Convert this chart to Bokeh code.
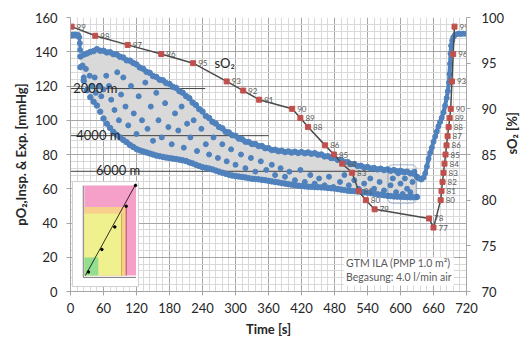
import math
from bokeh.plotting import figure
from bokeh.models import Range1d, LinearAxis, SingleIntervalTicker, Label, BoxAnnotation
from bokeh.core.properties import value
from bokeh.embed import file_html
from bokeh.resources import INLINE

# ---------------- data ----------------
# pO2 plateau before the start (s, mmHg)
PRE_T = [-2, 0, 2, 4, 6, 8, 10, 12, 14, 16, 17, 17.5]
PRE_V = [149.6, 150.0, 149.4, 149.9, 149.5, 150.1, 149.7, 149.3, 149.8, 148.5, 145.0, 141.0]

# pO2 inspiratory (upper) and expiratory (lower) envelopes on a common time base
BAND_T = [18, 24, 30, 36, 42, 48, 54, 60, 66, 72, 78, 84, 90, 96, 102, 108, 114, 120, 126, 132,
          138, 144, 150, 156, 162, 168, 174, 180, 186, 192, 198, 204, 210, 216, 222, 228, 234, 240,
          246, 252, 258, 264, 270, 276, 282, 288, 294, 300, 306, 312, 318, 324, 330, 336, 342, 348,
          354, 360, 366, 372, 378, 384, 390, 396, 402, 408, 414, 420, 426, 432, 438, 444, 450, 456,
          462, 468, 474, 480, 486, 492, 498, 504, 510, 516, 522, 528, 534, 540, 546, 552, 558, 564,
          570, 576, 582, 588, 594, 600, 606, 612, 618, 624, 630]
PO2_INSP = [137.2, 138.3, 139.0, 139.9, 140.4, 141.5, 140.6, 140.6, 139.6, 139.7, 138.6, 138.4,
            137.1, 136.6, 135.0, 134.8, 133.5, 132.6, 130.8, 130.1, 128.3, 127.7, 125.8, 125.3,
            123.7, 123.3, 121.7, 121.2, 119.5, 118.9, 117.0, 116.1, 114.1, 112.9, 110.3, 108.9,
            106.5, 105.1, 102.5, 101.3, 99.1, 98.1, 96.1, 95.3, 93.3, 92.9, 91.3, 90.9, 89.3,
            88.9, 87.5, 87.3, 86.1, 86.1, 84.9, 84.9, 83.7, 83.7, 82.6, 82.8, 81.9, 82.2, 81.4,
            81.8, 81.1, 81.6, 80.9, 81.4, 80.7, 81.2, 80.4, 80.8, 79.9, 80.0, 78.9, 79.0, 77.9,
            78.0, 76.8, 76.8, 75.6, 75.6, 74.4, 74.4, 73.3, 73.4, 72.4, 72.7, 71.8, 72.1, 71.3,
            71.7, 70.9, 71.3, 70.5, 70.9, 70.1, 70.5, 69.7, 70.0, 69.0, 68.8, 67.0]
PO2_EXP = [131.0, 123.0, 117.5, 113.5, 110.8, 108.6, 105.0, 101.0, 98.0, 95.5, 93.2, 91.5,
           90.0, 88.5, 87.2, 85.6, 84.4, 83.2, 82.4, 81.8, 81.2, 80.6, 80.0, 79.4, 79.0, 78.6,
           78.2, 77.9, 77.6, 77.3, 77.0, 76.6, 76.2, 75.4, 74.8, 74.0, 73.3, 72.6, 72.2, 71.8,
           71.3, 70.6, 70.0, 69.4, 68.8, 68.2, 67.7, 67.4, 67.1, 66.9, 66.6, 66.2, 65.9, 65.7,
           65.5, 65.2, 65.0, 64.6, 64.3, 64.0, 63.7, 63.3, 63.0, 62.7, 62.4, 62.1, 61.8, 61.6,
           61.4, 61.2, 61.1, 61.0, 60.9, 60.8, 60.7, 60.5, 60.3, 60.1, 59.8, 59.5, 59.2, 58.9,
           58.7, 58.6, 58.4, 58.2, 58.0, 57.7, 57.4, 57.1, 56.8, 56.5, 56.2, 55.9, 55.7, 55.5,
           55.4, 55.3, 55.2, 55.1, 55.0, 55.0, 55.2]

# single pO2 trace after the altitude phase
POST_T = [630, 634, 638, 642, 645, 648, 651, 654, 657, 660, 663, 666, 669, 672, 675, 678, 681,
          684, 686, 688, 689, 690, 691, 692, 694, 696, 699, 702, 706, 710, 714, 718]
POST_V = [67.0, 66.0, 65.4, 66.5, 69.0, 73.0, 77.5, 81.0, 84.0, 87.5, 90.5, 93.5, 96.5, 99.0,
          101.5, 104.5, 108.5, 113.0, 117.0, 122.0, 127.0, 133.0, 139.0, 143.5, 146.5, 148.5,
          149.8, 150.2, 150.6, 150.4, 150.6, 150.5]

# scattered pO2 values between the two envelopes
MID_T = [22, 24, 28, 30, 35, 38, 44, 46, 52, 56, 60, 65, 70, 74, 80, 85, 88, 92, 96, 100, 105,
         110, 115, 120, 124, 130, 136, 140, 146, 150, 156, 160, 166, 172, 178, 184, 190, 196,
         202, 206, 212, 218, 224, 230, 238, 246, 252, 260, 268, 276, 284, 292, 300, 310, 318,
         328, 336, 346, 356, 366, 372, 382, 390, 398, 408, 418, 426, 436, 444, 452, 462, 470,
         478, 490, 498, 506, 516, 524, 534, 545, 552, 562, 570, 582, 586, 592, 596, 600, 604,
         608, 612, 618, 622, 625]
MID_V = [132, 125, 130, 118, 126, 120, 125, 116, 120, 114, 118, 126, 120, 112, 106, 128, 100,
         115, 125, 108, 97, 120, 104, 92, 114, 100, 122, 95, 108, 88, 116, 100, 90, 110, 96, 86,
         104, 94, 108, 84, 98, 90, 100, 82, 95, 86, 80, 90, 78, 86, 76, 83, 74, 80, 72, 78, 70,
         76, 71, 74, 68, 72, 67, 70, 65, 71, 64, 68, 63, 66, 62, 67, 61, 64, 68, 62, 65, 60, 63,
         66, 60, 64, 59, 62, 66, 58, 69, 63, 57, 66, 60, 58, 64, 70]

# arterial oxygen saturation sO2 (s, %)
SO2_T = [2, 45, 104, 165, 223, 284, 314, 343, 403, 418, 432, 463, 479, 494, 512, 524, 537, 553,
         652, 660, 673, 674.6, 676.4, 678.2, 680, 681.9, 683.7, 685.6, 687.5, 689.4, 691.3,
         693.5, 695.8, 698.2]
SO2_V = [99, 98, 97, 96, 95, 93, 92, 91, 90, 89, 88, 86, 85, 84, 83, 81, 80, 79, 78, 77,
         80, 81, 82, 83, 84, 85, 86, 87, 88, 89, 90, 93, 96, 99]

# simulated altitude reference levels (inspiratory pO2, mmHg)
ALT_NAMES = ["2000 m", "4000 m", "6000 m"]
ALT_PO2 = [118.5, 91.0, 70.2]
ALT_END_T = [245, 360, 580]
ALT_LABEL_T = [5, 10.5, 46.5]

X_TICK_STEP = 60
Y_TICK_STEP = 20
SO2_TICK_STEP = 5

NOTE_1 = "GTM ILA (PMP 1.0 m\u00b2)"
NOTE_2 = "Begasung: 4.0 l/min air"

# ---------------- styling ----------------
BLUE = "#4F81BD"
RED = "#C0504D"
DARK = "#262626"
FONT = "Lato"

p = figure(width=531, height=345, x_range=Range1d(0, 720), y_range=Range1d(0, 160),
           output_backend="svg", toolbar_location=None,
           min_border_left=70, min_border_right=59, min_border_top=17, min_border_bottom=54)
p.extra_y_ranges = {"sat": Range1d(70, 100)}
p.outline_line_color = None
p.background_fill_color = "white"
p.border_fill_color = "white"

xt = SingleIntervalTicker(interval=X_TICK_STEP, num_minor_ticks=5)
yt = SingleIntervalTicker(interval=Y_TICK_STEP, num_minor_ticks=5)
left_axis = p.left[0]
bottom_axis = p.below[0]
bottom_axis.ticker = xt
left_axis.ticker = yt
p.xgrid.ticker = xt
p.ygrid.ticker = yt
for g in (p.xgrid, p.ygrid):
    g.grid_line_color = "#a6a6a6"
    g.grid_line_width = 1
    g.minor_grid_line_color = "#d9d9d9"
    g.minor_grid_line_width = 1

bottom_axis.axis_label = "Time [s]"
left_axis.axis_label = "pO\u2082,Insp. & Exp. [mmHg]"

ra = LinearAxis(y_range_name="sat", ticker=SingleIntervalTicker(interval=SO2_TICK_STEP, num_minor_ticks=0),
                axis_label="sO\u2082 [%]")
ra.axis_label_orientation = math.pi / 2
p.add_layout(ra, "right")

for ax in (bottom_axis, left_axis, ra):
    ax.axis_line_color = "#a6a6a6"
    ax.major_tick_line_color = "#a6a6a6"
    ax.minor_tick_line_color = None
    ax.major_tick_in = 0
    ax.major_tick_out = 4
    ax.major_label_text_font = FONT
    ax.major_label_text_font_size = "13px"
    ax.major_label_text_color = DARK
    ax.axis_label_text_font = FONT
    ax.axis_label_text_font_style = "bold"
    ax.axis_label_text_font_size = "13px"
    ax.axis_label_text_color = DARK

bottom_axis.major_label_standoff = 7
bottom_axis.axis_label_standoff = 5
left_axis.major_label_standoff = 9
left_axis.axis_label_standoff = 3
ra.major_label_standoff = 11
ra.axis_label_standoff = 5

# ---------------- inset picture (altitude diagram), drawn as shapes ----------------
IN_T0, IN_T1, IN_V0, IN_V1 = 3.6, 123.6, 2.9, 64.2          # picture frame in data units
PL_T0, PL_T1, PL_V0, PL_V1 = 25.1, 119.1, 9.3, 61.9          # its inner plot area

def it(f):
    return PL_T0 + f * (PL_T1 - PL_T0)

def iv(f):
    return PL_V0 + f * (PL_V1 - PL_V0)

p.quad(left=IN_T0, right=IN_T1, bottom=IN_V0, top=IN_V1, fill_color="white",
       line_color="#d0d0d0", line_width=1)
p.quad(left=it(0), right=it(1), bottom=iv(0), top=iv(1), fill_color="#f4a0c8", line_color=None)
p.quad(left=it(0), right=it(0.81), bottom=iv(0), top=iv(0.76), fill_color="#f8d08e", line_color=None)
p.quad(left=it(0), right=it(0.72), bottom=iv(0), top=iv(0.686), fill_color="#eff08e", line_color=None)
p.quad(left=it(0), right=it(0.27), bottom=iv(0), top=iv(0.2), fill_color="#93de90", line_color=None)
p.segment(x0=[it(0.81), it(0.72)], y0=[iv(0), iv(0)], x1=[it(0.81), it(0.72)], y1=[iv(0.76), iv(0.686)],
          line_color=["#a03050", "#c8a040"], line_width=0.8)
p.line([it(0.02), it(1.0)], [iv(0), iv(1.02)], line_color="black", line_width=0.8)
p.scatter([it(0.08), it(0.34), it(0.59), it(0.81), it(0.99)], [iv(0.04), iv(0.29), iv(0.54), iv(0.77), iv(1.0)],
          size=2.5, color="black")
p.line([it(-0.02), it(-0.02), it(1.0)], [iv(1.0), iv(-0.02), iv(-0.02)], line_color="#555555", line_width=0.8)

# ---------------- pO2 band ----------------
p.varea(x=BAND_T, y1=PO2_EXP, y2=PO2_INSP, fill_color="#d9d9d9")

# altitude reference lines
p.segment(x0=[0] * len(ALT_PO2), y0=ALT_PO2, x1=ALT_END_T, y1=ALT_PO2, line_color="#404040", line_width=1)

p.line(PRE_T, PRE_V, line_color=BLUE, line_width=3)
p.scatter(PRE_T, PRE_V, size=5, color=BLUE)
p.scatter(BAND_T, PO2_INSP, size=5.5, color=BLUE)
p.scatter(BAND_T, PO2_EXP, size=5.5, color=BLUE)
p.scatter(MID_T, MID_V, size=5, color=BLUE)
p.line(POST_T, POST_V, line_color=BLUE, line_width=4)
p.scatter(POST_T, POST_V, size=5, color=BLUE)

p.text(x=ALT_LABEL_T, y=ALT_PO2, text=ALT_NAMES, text_font=value(FONT), text_font_size="13px",
       text_color=DARK, text_baseline="alphabetic", y_offset=-1)

# highlighted end phase
p.add_layout(BoxAnnotation(left=577, right=629, bottom=51.5, top=74, fill_alpha=0,
                           line_color="#2f5f97", line_width=1.5, border_radius=5))

# ---------------- sO2 ----------------
p.line(SO2_T, SO2_V, y_range_name="sat", line_color="#4a4a4a", line_width=1.5)
p.scatter(SO2_T, SO2_V, y_range_name="sat", marker="square", size=5, color=RED)
p.text(x=SO2_T, y=SO2_V, text=[str(v) for v in SO2_V], y_range_name="sat", x_offset=5,
       text_font=value(FONT), text_font_size="8px", text_color="#595959", text_baseline="middle")
p.add_layout(Label(x=262, y=95, y_range_name="sat", text="sO\u2082", text_font=FONT,
                   text_font_size="13px", text_color=DARK, text_baseline="middle"))

# ---------------- note ----------------
p.quad(left=497, right=697, bottom=3.5, top=20, fill_color="white", line_color=None)
p.add_layout(Label(x=501, y=16.4, text=NOTE_1, text_font=FONT, text_font_size="10.5px",
                   text_color="#595959", text_baseline="middle"))
p.add_layout(Label(x=501, y=8.2, text=NOTE_2, text_font=FONT, text_font_size="10.5px",
                   text_color="#595959", text_baseline="middle"))

open("out.html", "w").write(file_html(p, INLINE))
